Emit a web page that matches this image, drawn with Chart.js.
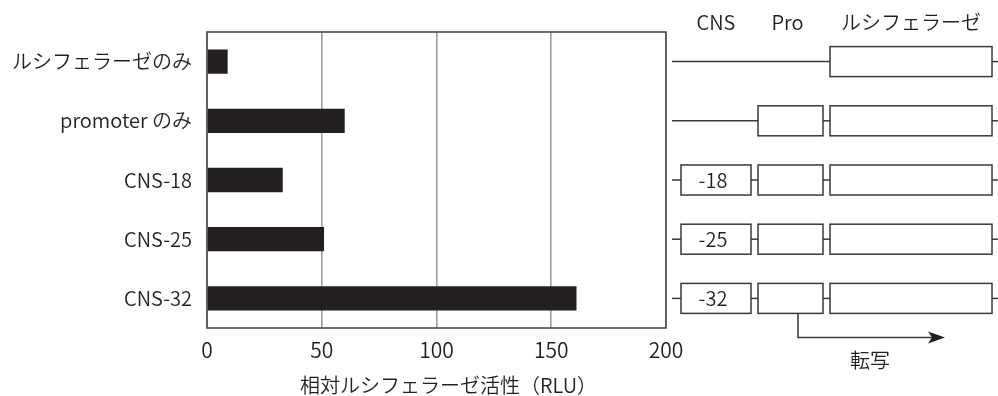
<!DOCTYPE html>
<html lang="ja">
<head>
<meta charset="utf-8">
<script src="https://cdn.jsdelivr.net/npm/chart.js@4"></script>
<style>
  html, body { margin: 0; padding: 0; background: #fff; }
  #wrap { width: 998px; height: 396px; }
</style>
</head>
<body>
<div id="wrap"><canvas id="c" width="998" height="396"></canvas></div>
<script>
// Reporter constructs and their relative luciferase activity
const categories = ['ルシフェラーゼのみ', 'promoter のみ', 'CNS-18', 'CNS-25', 'CNS-32'];
const activity = [9, 60, 33, 51, 161];
const xTicks = [0, 50, 100, 150, 200];
const xTitle = '相対ルシフェラーゼ活性（RLU）';

// Construct map drawn beside each bar
const cnsLabels = [null, null, '-18', '-25', '-32'];
const hasPromoter = [false, true, true, true, true];
const headers = ['CNS', 'Pro', 'ルシフェラーゼ'];
const arrowLabel = '転写';

const INK = '#231f20';
const FONT = '"Noto Sans CJK JP", "Noto Sans", sans-serif';
const WEIGHT = 350;

// Full box around the plotting area, plus the axis title under the ticks
const framePlugin = {
  id: 'frame',
  afterDatasetsDraw(chart) {
    const { ctx, chartArea: a } = chart;
    ctx.save();
    ctx.strokeStyle = '#4a4a4a';
    ctx.lineWidth = 1.6;
    ctx.strokeRect(a.left, a.top, a.right - a.left, a.bottom - a.top);
    ctx.fillStyle = INK;
    ctx.font = WEIGHT + ' 20px ' + FONT;
    ctx.textAlign = 'center';
    ctx.textBaseline = 'middle';
    ctx.fillText(xTitle, (a.left + a.right) / 2 + 12, a.bottom + 57);
    ctx.restore();
  }
};

// Schematic of each construct, aligned with the bar rows
const constructPlugin = {
  id: 'constructs',
  afterDraw(chart) {
    const { ctx, chartArea: a, scales: { y } } = chart;
    const x0 = a.right;
    const lineStart = x0 + 6;
    const cnsBox = [x0 + 15, x0 + 85];
    const proBox = [x0 + 92, x0 + 157];
    const lucBox = [x0 + 164, x0 + 326];
    const lineEnd = chart.width;
    const h = 30;

    ctx.save();
    ctx.strokeStyle = '#3a3a3a';
    ctx.lineWidth = 1.5;
    ctx.fillStyle = INK;
    ctx.font = WEIGHT + ' 20px ' + FONT;
    ctx.textAlign = 'center';
    ctx.textBaseline = 'middle';

    const mid = b => (b[0] + b[1]) / 2;
    const hline = (xa, xb, yy) => {
      ctx.beginPath(); ctx.moveTo(xa, yy); ctx.lineTo(xb, yy); ctx.stroke();
    };
    const box = (b, yy) => {
      ctx.fillStyle = '#fff';
      ctx.fillRect(b[0], yy - h / 2, b[1] - b[0], h);
      ctx.strokeRect(b[0], yy - h / 2, b[1] - b[0], h);
      ctx.fillStyle = INK;
    };

    // column headers
    const top = a.top - 10;
    ctx.fillText(headers[0], mid(cnsBox), top);
    ctx.fillText(headers[1], mid(proBox) - 3, top);
    ctx.fillText(headers[2], mid(lucBox), top);

    categories.forEach((_, i) => {
      const yc = y.getPixelForValue(i);
      if (cnsLabels[i]) {
        hline(lineStart, cnsBox[0], yc);
        box(cnsBox, yc);
        ctx.fillText(cnsLabels[i], mid(cnsBox) - 3, yc);
        hline(cnsBox[1], proBox[0], yc);
        box(proBox, yc);
        hline(proBox[1], lucBox[0], yc);
      } else if (hasPromoter[i]) {
        hline(lineStart, proBox[0], yc);
        box(proBox, yc);
        hline(proBox[1], lucBox[0], yc);
      } else {
        hline(lineStart, lucBox[0], yc);
      }
      box(lucBox, yc);
      hline(lucBox[1], lineEnd, yc);
    });

    // transcription arrow from the promoter of the last construct
    const yl = y.getPixelForValue(categories.length - 1);
    const ax = proBox[0] + 40;
    const ay = yl + h / 2 + 24;
    const tip = x0 + 279;
    ctx.beginPath();
    ctx.moveTo(ax, yl + h / 2);
    ctx.lineTo(ax, ay);
    ctx.lineTo(tip - 10, ay);
    ctx.stroke();
    ctx.beginPath();
    ctx.moveTo(tip, ay);
    ctx.lineTo(tip - 17, ay - 6);
    ctx.lineTo(tip - 13, ay);
    ctx.lineTo(tip - 17, ay + 6);
    ctx.closePath();
    ctx.fill();
    ctx.fillText(arrowLabel, x0 + 204, ay + 23);
    ctx.restore();
  }
};

new Chart(document.getElementById('c'), {
  type: 'bar',
  data: {
    labels: categories,
    datasets: [{
      data: activity,
      backgroundColor: INK,
      borderWidth: 0,
      barPercentage: 0.41,
      categoryPercentage: 1
    }]
  },
  options: {
    indexAxis: 'y',
    responsive: false,
    animation: false,
    layout: { padding: { top: 32, right: 332, bottom: 0, left: 0 } },
    plugins: { legend: { display: false }, tooltip: { enabled: false } },
    scales: {
      x: {
        min: 0,
        max: 200,
        afterBuildTicks(scale) { scale.ticks = xTicks.map(v => ({ value: v })); },
        afterFit(scale) { scale.height = 68; },
        grid: { color: '#9d9d9d', lineWidth: 1.6, drawTicks: false },
        border: { display: false },
        ticks: { color: INK, font: { family: FONT, size: 21, weight: WEIGHT }, padding: 9 },
        title: { display: false, text: xTitle }
      },
      y: {
        afterFit(scale) { scale.width = 207; },
        grid: { display: false, drawTicks: false },
        border: { display: false },
        ticks: { color: INK, font: { family: FONT, size: 20, weight: WEIGHT }, padding: 15 }
      }
    }
  },
  plugins: [framePlugin, constructPlugin]
});
</script>
</body>
</html>
